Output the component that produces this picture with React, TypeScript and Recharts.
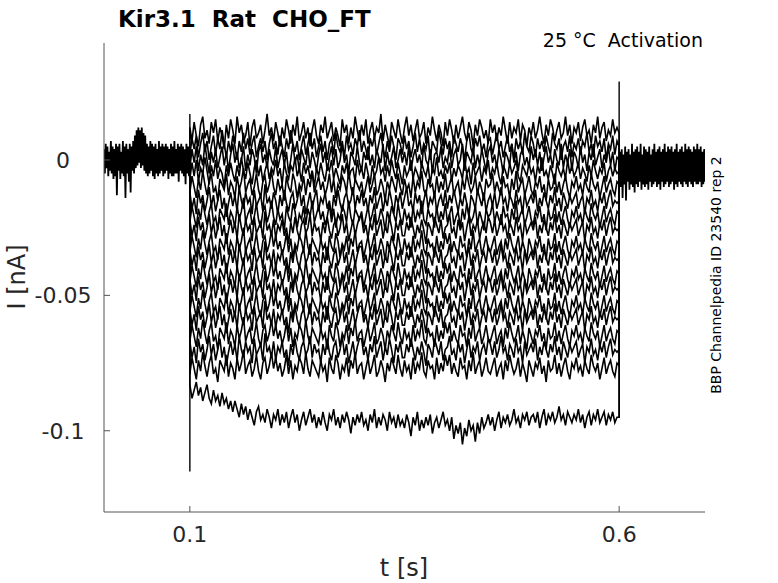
import React from 'react';
import { LineChart, Line, XAxis, YAxis } from 'recharts';

// sampling of the recorded sweeps (s)
const PRE_START = 0;
const PRE_STEP = 0.001;
const PULSE_START = 0.1;
const PULSE_STEP = 0.0025;
const POST_START = 0.6;
const POST_STEP = 0.001;

const xTicks = [0.1, 0.6];
const yTicks = [-0.1, -0.05, 0];

// holding current before the step, all sweeps on top of each other (pA)
const preBaseline = [
  4, -5, 6, -3, 5, -6, 3, -4, 7, -5,
  5, -7, 4, -6, 6, -13, 5, -4, 6, -7,
  3, -5, 7, -6, 5, -14, 6, -5, 4, -8,
  6, -12, 5, -4, 7, -5, 9, -3, 11, -2,
  12, -1, 11, -3, 12, -2, 10, -4, 9, -5,
  6, -6, 5, -5, 7, -4, 6, -6, 5, -7,
  6, -5, 4, -6, 7, -5, 5, -4, 6, -6,
  5, -5, 6, -4, 5, -7, 4, -5, 6, -6,
  5, -6, 7, -5, 4, -5, 6, -8, 5, -4,
  6, -5, 5, -6, 4, -9, 6, -5, 5, -6,
  0,
];

// tail current after the step (pA)
const postBaseline = [
  0,
  3, -10, 4, -14, 2, -9, 5, -15, 3, -8,
  4, -11, 2, -9, 6, -10, 3, -12, 4, -9,
  5, -10, 3, -8, 6, -11, 2, -9, 5, -10,
  4, -9, 3, -11, 5, -8, 2, -10, 4, -9,
  6, -8, 3, -10, 4, -9, 5, -11, 3, -8,
  4, -10, 6, -9, 3, -8, 5, -10, 4, -9,
  5, -8, 3, -11, 4, -9, 6, -10, 3, -8,
  4, -9, 5, -10, 3, -8, 6, -9, 4, -10,
  5, -8, 4, -9, 3, -10, 5, -8, 4, -9,
  6, -9, 4, -8, 5, -10, 3, -9, 4, -8,
];

// current during the voltage step, one array per sweep (pA)
const sweep01 = [
  12, 7, 14, 9, 5, 13, 16, 8, 11, 6, 14, 10, 15, 7, 12, 9, 4, 13, 8, 15,
  11, 6, 16, 10, 13, 7, 9, 14, 5, 12, 15, 8, 10, 13, 6, 11, 17, 9, 12, 7,
  14, 10, 5, 12, 8, 15, 11, 6, 13, 9, 16, 7, 10, 14, 8, 12, 5, 11, 15, 9,
  6, 13, 10, 16, 8, 11, 14, 7, 12, 9, 5, 15, 10, 13, 6, 12, 8, 16, 11, 7,
  13, 9, 15, 6, 11, 14, 8, 12, 10, 17, 7, 13, 9, 5, 14, 11, 8, 15, 10, 6,
  12, 16, 9, 13, 7, 11, 15, 8, 10, 14, 6, 12, 9, 16, 11, 7, 13, 10, 5, 14,
  9, 15, 11, 6, 13, 8, 12, 16, 10, 7, 14, 11, 5, 13, 9, 15, 12, 8, 11, 6,
  15, 10, 13, 7, 12, 9, 16, 11, 6, 14, 8, 12, 10, 15, 7, 13, 11, 5, 12, 9,
  14, 8, 11, 16, 10, 6, 13, 9, 15, 12, 7, 11, 14, 8, 10, 16, 9, 13, 6, 12,
  10, 14, 7, 12, 15, 9, 11, 6, 13, 10, 16, 8, 12, 14, 7, 11, 9, 15, 10, 12,
  10,
];
const sweep02 = [
  2, 8, 4, 9, 1, 6, 10, 3, 7, 0, 5, 9, 2, 8, 4, 11, 6, 1, 7, 3,
  9, 5, 0, 7, 3, 10, 4, 8, 2, 6, 9, 1, 5, 8, 3, 7, 0, 6, 10, 4,
  7, 2, 9, 5, 1, 8, 4, 11, 6, 3, 7, 0, 5, 9, 2, 6, 10, 4, 8, 1,
  5, 9, 3, 7, 0, 6, 8, 2, 10, 5, 3, 7, 1, 9, 4, 6, 2, 8, 5, 11,
  3, 7, 4, 0, 8, 5, 9, 2, 6, 10, 4, 1, 7, 3, 9, 5, 0, 8, 6, 2,
  9, 4, 7, 1, 5, 10, 3, 8, 2, 6, 4, 9, 0, 7, 5, 3, 11, 6, 2, 8,
  4, 7, 1, 9, 6, 3, 8, 5, 0, 7, 10, 4, 2, 8, 5, 9, 3, 6, 1, 7,
  8, 2, 6, 10, 4, 7, 1, 5, 9, 3, 6, 0, 8, 4, 7, 2, 10, 5, 3, 9,
  6, 1, 8, 4, 7, 3, 9, 5, 2, 10, 6, 4, 8, 0, 5, 7, 3, 9, 1, 6,
  4, 8, 2, 7, 5, 10, 3, 6, 1, 9, 5, 7, 3, 8, 0, 6, 4, 9, 2, 7,
  5,
];
const sweep03 = [
  -3, 4, -1, 5, -4, 2, -2, 6, 0, -5, 3, -1, 4, -3, 1, 5, -2, 3, -4, 2,
  6, -1, 3, -3, 0, 5, -4, 2, -2, 4, 1, -5, 3, 6, -1, 2, -3, 4, 0, -2,
  5, -3, 1, 4, -2, 3, -5, 0, 6, -1, 2, -4, 4, 1, -2, 5, -3, 3, 0, -4,
  2, 6, -1, 3, -4, 1, 5, -2, 4, -3, 0, 6, -1, 2, -5, 3, 1, -2, 5, -1,
  -4, 3, 0, 5, -2, 2, -3, 4, 1, -1, 6, -4, 3, -2, 1, 5, -3, 0, 4, -1,
  3, -2, 5, -4, 1, 4, -1, 2, -3, 6, 0, -2, 4, -5, 2, 3, -1, 5, -3, 1,
  -1, 5, -3, 2, 4, -2, 0, 6, -4, 3, 1, -1, 5, -3, 2, -2, 4, 0, -4, 3,
  5, -1, 2, -3, 4, 0, -5, 3, 1, -2, 6, -1, 3, -4, 2, 4, -2, 1, -3, 5,
  0, 4, -2, 3, -4, 1, 5, -1, 2, -3, 4, 0, -2, 6, -3, 2, -1, 4, -4, 3,
  1, -3, 5, -1, 2, -4, 3, 0, 6, -2, 1, 4, -3, 2, -1, 5, -2, 3, -4, 1,
  0,
];
const sweep04 = [
  -7, -1, -6, 0, -8, -3, -5, 1, -4, -9, -2, -6, 0, -7, -3, -5, -10, -2, -6, -1,
  -5, -8, -2, -6, 1, -4, -7, -1, -5, -9, -3, 0, -6, -2, -8, -4, -1, -7, -3, -5,
  0, -6, -3, -9, -1, -5, -7, -2, -4, 1, -6, -3, -8, -1, -5, -2, -7, -4, -10, -3,
  -6, -1, -5, -8, -2, -4, 0, -7, -3, -6, -9, -2, -5, -1, -7, -4, -3, -8, 0, -5,
  -3, -7, -1, -5, -9, -2, -6, -4, 1, -5, -3, -8, -2, -6, 0, -4, -7, -1, -5, -9,
  -2, -6, -4, 0, -7, -3, -5, -8, -1, -4, -6, -2, -9, -3, -5, 1, -6, -4, -7, -2,
  -5, -1, -8, -3, -6, -2, -4, -7, 0, -5, -3, -9, -1, -6, -4, -2, -8, -3, -5, 0,
  -7, -3, -5, -1, -6, -9, -2, -4, -7, -1, -5, -3, 0, -6, -8, -2, -4, -6, -1, -5,
  -3, -8, -2, -5, 1, -6, -4, -7, -2, -5, -9, -1, -4, -6, -3, -7, 0, -5, -2, -6,
  -4, -1, -7, -3, -5, -8, -2, -6, 0, -4, -7, -3, -5, -1, -8, -4, -2, -6, -3, -5,
  -4,
];
const sweep05 = [
  -12, -6, -10, -14, -7, -11, -4, -9, -13, -8, -5, -12, -10, -15, -7, -9, -11, -5, -13, -8,
  -10, -14, -6, -11, -8, -3, -12, -9, -7, -13, -10, -5, -11, -14, -8, -6, -12, -9, -4, -10,
  -13, -7, -11, -9, -15, -6, -10, -12, -5, -8, -14, -9, -11, -6, -13, -7, -10, -4, -12, -9,
  -6, -11, -8, -13, -10, -5, -12, -7, -14, -9, -11, -6, -8, -12, -4, -10, -13, -7, -9, -11,
  -8, -14, -10, -6, -12, -9, -5, -13, -11, -7, -10, -15, -8, -11, -6, -9, -12, -5, -10, -13,
  -7, -11, -9, -14, -6, -12, -8, -10, -4, -11, -13, -7, -10, -9, -14, -6, -12, -8, -11, -5,
  -12, -9, -6, -13, -10, -8, -14, -7, -11, -5, -9, -12, -10, -6, -13, -8, -11, -15, -7, -10,
  -9, -5, -12, -8, -11, -13, -6, -10, -9, -14, -7, -11, -4, -12, -9, -7, -13, -10, -6, -11,
  -13, -8, -10, -6, -12, -9, -15, -7, -11, -10, -5, -12, -8, -13, -9, -6, -11, -14, -8, -10,
  -6, -11, -9, -13, -7, -10, -12, -5, -9, -11, -8, -14, -10, -6, -12, -9, -7, -11, -13, -8,
  -9,
];
const sweep06 = [
  -12, -18, -14, -20, -11, -16, -13, -19, -15, -10, -17, -13, -19, -15, -11, -18, -14, -21, -16, -12,
  -17, -13, -19, -10, -15, -18, -12, -16, -14, -20, -11, -17, -15, -13, -19, -9, -16, -14, -18, -12,
  -15, -20, -13, -17, -11, -16, -19, -14, -12, -18, -15, -10, -17, -13, -20, -16, -12, -18, -14, -11,
  -19, -14, -16, -12, -18, -15, -21, -13, -17, -11, -16, -19, -14, -12, -17, -15, -10, -18, -13, -16,
  -11, -17, -14, -19, -13, -16, -10, -18, -15, -12, -19, -14, -17, -11, -15, -20, -13, -16, -12, -18,
  -14, -10, -17, -15, -19, -12, -16, -13, -20, -15, -11, -18, -14, -16, -12, -19, -15, -13, -17, -11,
  -18, -13, -16, -11, -15, -19, -14, -17, -12, -16, -21, -13, -15, -18, -11, -14, -17, -12, -19, -15,
  -13, -17, -12, -18, -15, -10, -16, -14, -19, -13, -15, -18, -11, -16, -14, -20, -12, -17, -15, -13,
  -16, -11, -19, -14, -17, -12, -15, -18, -13, -16, -10, -17, -14, -19, -12, -15, -18, -13, -16, -14,
  -12, -18, -15, -13, -20, -14, -16, -11, -17, -15, -19, -13, -16, -12, -18, -14, -11, -17, -15, -16,
  -15,
];
const sweep07 = [
  -23, -17, -21, -25, -18, -22, -15, -20, -24, -19, -16, -23, -21, -26, -18, -20, -22, -16, -24, -19,
  -21, -25, -17, -22, -19, -14, -23, -20, -18, -24, -21, -16, -22, -25, -19, -17, -23, -20, -15, -21,
  -24, -18, -22, -20, -26, -17, -21, -23, -16, -19, -25, -20, -22, -17, -24, -18, -21, -15, -23, -20,
  -17, -22, -19, -24, -21, -16, -23, -18, -25, -20, -22, -17, -19, -23, -15, -21, -24, -18, -20, -22,
  -19, -25, -21, -17, -23, -20, -16, -24, -22, -18, -21, -26, -19, -22, -17, -20, -23, -16, -21, -24,
  -18, -22, -20, -25, -17, -23, -19, -21, -15, -22, -24, -18, -21, -20, -25, -17, -23, -19, -22, -16,
  -23, -20, -17, -24, -21, -19, -25, -18, -22, -16, -20, -23, -21, -17, -24, -19, -22, -26, -18, -21,
  -20, -16, -23, -19, -22, -24, -17, -21, -20, -25, -18, -22, -15, -23, -20, -18, -24, -21, -17, -22,
  -24, -19, -21, -17, -23, -20, -26, -18, -22, -21, -16, -23, -19, -24, -20, -17, -22, -25, -19, -21,
  -17, -22, -20, -24, -18, -21, -23, -16, -20, -22, -19, -25, -21, -17, -23, -20, -18, -22, -24, -19,
  -20,
];
const sweep08 = [
  -22, -28, -24, -30, -21, -26, -23, -29, -25, -20, -27, -23, -29, -25, -21, -28, -24, -31, -26, -22,
  -27, -23, -29, -20, -25, -28, -22, -26, -24, -30, -21, -27, -25, -23, -29, -19, -26, -24, -28, -22,
  -29, -24, -26, -22, -28, -25, -31, -23, -27, -21, -26, -29, -24, -22, -27, -25, -20, -28, -23, -26,
  -25, -30, -23, -27, -21, -26, -29, -24, -22, -28, -25, -20, -27, -23, -30, -26, -22, -28, -24, -21,
  -21, -27, -24, -29, -23, -26, -20, -28, -25, -22, -29, -24, -27, -21, -25, -30, -23, -26, -22, -28,
  -28, -23, -26, -21, -25, -29, -24, -27, -22, -26, -31, -23, -25, -28, -21, -24, -27, -22, -29, -25,
  -24, -20, -27, -25, -29, -22, -26, -23, -30, -25, -21, -28, -24, -26, -22, -29, -25, -23, -27, -21,
  -23, -27, -22, -28, -25, -20, -26, -24, -29, -23, -25, -28, -21, -26, -24, -30, -22, -27, -25, -23,
  -26, -21, -29, -24, -27, -22, -25, -28, -23, -26, -20, -27, -24, -29, -22, -25, -28, -23, -26, -24,
  -22, -28, -25, -23, -30, -24, -26, -21, -27, -25, -29, -23, -26, -22, -28, -24, -21, -27, -25, -26,
  -25,
];
const sweep09 = [
  -34, -28, -32, -36, -29, -33, -26, -31, -35, -30, -27, -34, -32, -37, -29, -31, -33, -27, -35, -30,
  -32, -36, -28, -33, -30, -25, -34, -31, -29, -35, -32, -27, -33, -36, -30, -28, -34, -31, -26, -32,
  -28, -33, -30, -35, -32, -27, -34, -29, -36, -31, -33, -28, -30, -34, -26, -32, -35, -29, -31, -33,
  -35, -29, -33, -31, -37, -28, -32, -34, -27, -30, -36, -31, -33, -28, -35, -29, -32, -26, -34, -31,
  -30, -36, -32, -28, -34, -31, -27, -35, -33, -29, -32, -37, -30, -33, -28, -31, -34, -27, -32, -35,
  -29, -33, -31, -36, -28, -34, -30, -32, -26, -33, -35, -29, -32, -31, -36, -28, -34, -30, -33, -27,
  -31, -27, -34, -30, -33, -35, -28, -32, -31, -36, -29, -33, -26, -34, -31, -29, -35, -32, -28, -33,
  -34, -31, -28, -35, -32, -30, -36, -29, -33, -27, -31, -34, -32, -28, -35, -30, -33, -37, -29, -32,
  -35, -30, -32, -28, -34, -31, -37, -29, -33, -32, -27, -34, -30, -35, -31, -28, -33, -36, -30, -32,
  -28, -33, -31, -35, -29, -32, -34, -27, -31, -33, -30, -36, -32, -28, -34, -31, -29, -33, -35, -30,
  -31,
];
const sweep10 = [
  -33, -39, -35, -41, -32, -37, -34, -40, -36, -31, -38, -34, -40, -36, -32, -39, -35, -42, -37, -33,
  -38, -34, -40, -31, -36, -39, -33, -37, -35, -41, -32, -38, -36, -34, -40, -30, -37, -35, -39, -33,
  -40, -35, -37, -33, -39, -36, -42, -34, -38, -32, -37, -40, -35, -33, -38, -36, -31, -39, -34, -37,
  -36, -41, -34, -38, -32, -37, -40, -35, -33, -39, -36, -31, -38, -34, -41, -37, -33, -39, -35, -32,
  -32, -38, -35, -40, -34, -37, -31, -39, -36, -33, -40, -35, -38, -32, -36, -41, -34, -37, -33, -39,
  -39, -34, -37, -32, -36, -40, -35, -38, -33, -37, -42, -34, -36, -39, -32, -35, -38, -33, -40, -36,
  -35, -31, -38, -36, -40, -33, -37, -34, -41, -36, -32, -39, -35, -37, -33, -40, -36, -34, -38, -32,
  -34, -38, -33, -39, -36, -31, -37, -35, -40, -34, -36, -39, -32, -37, -35, -41, -33, -38, -36, -34,
  -37, -32, -40, -35, -38, -33, -36, -39, -34, -37, -31, -38, -35, -40, -33, -36, -39, -34, -37, -35,
  -33, -39, -36, -34, -41, -35, -37, -32, -38, -36, -40, -34, -37, -33, -39, -35, -32, -38, -36, -37,
  -36,
];
const sweep11 = [
  -45, -39, -43, -47, -40, -44, -37, -42, -46, -41, -38, -45, -43, -48, -40, -42, -44, -38, -46, -41,
  -43, -47, -39, -44, -41, -36, -45, -42, -40, -46, -43, -38, -44, -47, -41, -39, -45, -42, -37, -43,
  -39, -44, -41, -46, -43, -38, -45, -40, -47, -42, -44, -39, -41, -45, -37, -43, -46, -40, -42, -44,
  -46, -40, -44, -42, -48, -39, -43, -45, -38, -41, -47, -42, -44, -39, -46, -40, -43, -37, -45, -42,
  -41, -47, -43, -39, -45, -42, -38, -46, -44, -40, -43, -48, -41, -44, -39, -42, -45, -38, -43, -46,
  -40, -44, -42, -47, -39, -45, -41, -43, -37, -44, -46, -40, -43, -42, -47, -39, -45, -41, -44, -38,
  -42, -38, -45, -41, -44, -46, -39, -43, -42, -47, -40, -44, -37, -45, -42, -40, -46, -43, -39, -44,
  -45, -42, -39, -46, -43, -41, -47, -40, -44, -38, -42, -45, -43, -39, -46, -41, -44, -48, -40, -43,
  -46, -41, -43, -39, -45, -42, -48, -40, -44, -43, -38, -45, -41, -46, -42, -39, -44, -47, -41, -43,
  -39, -44, -42, -46, -40, -43, -45, -38, -42, -44, -41, -47, -43, -39, -45, -42, -40, -44, -46, -41,
  -42,
];
const sweep12 = [
  -44, -50, -46, -52, -43, -48, -45, -51, -47, -42, -49, -45, -51, -47, -43, -50, -46, -53, -48, -44,
  -49, -45, -51, -42, -47, -50, -44, -48, -46, -52, -43, -49, -47, -45, -51, -41, -48, -46, -50, -44,
  -51, -46, -48, -44, -50, -47, -53, -45, -49, -43, -48, -51, -46, -44, -49, -47, -42, -50, -45, -48,
  -47, -52, -45, -49, -43, -48, -51, -46, -44, -50, -47, -42, -49, -45, -52, -48, -44, -50, -46, -43,
  -43, -49, -46, -51, -45, -48, -42, -50, -47, -44, -51, -46, -49, -43, -47, -52, -45, -48, -44, -50,
  -50, -45, -48, -43, -47, -51, -46, -49, -44, -48, -53, -45, -47, -50, -43, -46, -49, -44, -51, -47,
  -46, -42, -49, -47, -51, -44, -48, -45, -52, -47, -43, -50, -46, -48, -44, -51, -47, -45, -49, -43,
  -45, -49, -44, -50, -47, -42, -48, -46, -51, -45, -47, -50, -43, -48, -46, -52, -44, -49, -47, -45,
  -48, -43, -51, -46, -49, -44, -47, -50, -45, -48, -42, -49, -46, -51, -44, -47, -50, -45, -48, -46,
  -44, -50, -47, -45, -52, -46, -48, -43, -49, -47, -51, -45, -48, -44, -50, -46, -43, -49, -47, -48,
  -47,
];
const sweep13 = [
  -56, -50, -54, -58, -51, -55, -48, -53, -57, -52, -49, -56, -54, -59, -51, -53, -55, -49, -57, -52,
  -54, -58, -50, -55, -52, -47, -56, -53, -51, -57, -54, -49, -55, -58, -52, -50, -56, -53, -48, -54,
  -50, -55, -52, -57, -54, -49, -56, -51, -58, -53, -55, -50, -52, -56, -48, -54, -57, -51, -53, -55,
  -57, -51, -55, -53, -59, -50, -54, -56, -49, -52, -58, -53, -55, -50, -57, -51, -54, -48, -56, -53,
  -52, -58, -54, -50, -56, -53, -49, -57, -55, -51, -54, -59, -52, -55, -50, -53, -56, -49, -54, -57,
  -51, -55, -53, -58, -50, -56, -52, -54, -48, -55, -57, -51, -54, -53, -58, -50, -56, -52, -55, -49,
  -53, -49, -56, -52, -55, -57, -50, -54, -53, -58, -51, -55, -48, -56, -53, -51, -57, -54, -50, -55,
  -56, -53, -50, -57, -54, -52, -58, -51, -55, -49, -53, -56, -54, -50, -57, -52, -55, -59, -51, -54,
  -57, -52, -54, -50, -56, -53, -59, -51, -55, -54, -49, -56, -52, -57, -53, -50, -55, -58, -52, -54,
  -50, -55, -53, -57, -51, -54, -56, -49, -53, -55, -52, -58, -54, -50, -56, -53, -51, -55, -57, -52,
  -53,
];
const sweep14 = [
  -55, -61, -57, -63, -54, -59, -56, -62, -58, -53, -60, -56, -62, -58, -54, -61, -57, -64, -59, -55,
  -60, -56, -62, -53, -58, -61, -55, -59, -57, -63, -54, -60, -58, -56, -62, -52, -59, -57, -61, -55,
  -62, -57, -59, -55, -61, -58, -64, -56, -60, -54, -59, -62, -57, -55, -60, -58, -53, -61, -56, -59,
  -58, -63, -56, -60, -54, -59, -62, -57, -55, -61, -58, -53, -60, -56, -63, -59, -55, -61, -57, -54,
  -54, -60, -57, -62, -56, -59, -53, -61, -58, -55, -62, -57, -60, -54, -58, -63, -56, -59, -55, -61,
  -61, -56, -59, -54, -58, -62, -57, -60, -55, -59, -64, -56, -58, -61, -54, -57, -60, -55, -62, -58,
  -57, -53, -60, -58, -62, -55, -59, -56, -63, -58, -54, -61, -57, -59, -55, -62, -58, -56, -60, -54,
  -56, -60, -55, -61, -58, -53, -59, -57, -62, -56, -58, -61, -54, -59, -57, -63, -55, -60, -58, -56,
  -59, -54, -62, -57, -60, -55, -58, -61, -56, -59, -53, -60, -57, -62, -55, -58, -61, -56, -59, -57,
  -55, -61, -58, -56, -63, -57, -59, -54, -60, -58, -62, -56, -59, -55, -61, -57, -54, -60, -58, -59,
  -58,
];
const sweep15 = [
  -67, -61, -65, -69, -62, -66, -59, -64, -68, -63, -60, -67, -65, -70, -62, -64, -66, -60, -68, -63,
  -65, -69, -61, -66, -63, -58, -67, -64, -62, -68, -65, -60, -66, -69, -63, -61, -67, -64, -59, -65,
  -61, -66, -63, -68, -65, -60, -67, -62, -69, -64, -66, -61, -63, -67, -59, -65, -68, -62, -64, -66,
  -68, -62, -66, -64, -70, -61, -65, -67, -60, -63, -69, -64, -66, -61, -68, -62, -65, -59, -67, -64,
  -63, -69, -65, -61, -67, -64, -60, -68, -66, -62, -65, -70, -63, -66, -61, -64, -67, -60, -65, -68,
  -62, -66, -64, -69, -61, -67, -63, -65, -59, -66, -68, -62, -65, -64, -69, -61, -67, -63, -66, -60,
  -64, -60, -67, -63, -66, -68, -61, -65, -64, -69, -62, -66, -59, -67, -64, -62, -68, -65, -61, -66,
  -67, -64, -61, -68, -65, -63, -69, -62, -66, -60, -64, -67, -65, -61, -68, -63, -66, -70, -62, -65,
  -68, -63, -65, -61, -67, -64, -70, -62, -66, -65, -60, -67, -63, -68, -64, -61, -66, -69, -63, -65,
  -61, -66, -64, -68, -62, -65, -67, -60, -64, -66, -63, -69, -65, -61, -67, -64, -62, -66, -68, -63,
  -64,
];
const sweep16 = [
  -67, -73, -69, -75, -66, -71, -68, -74, -70, -65, -72, -68, -74, -70, -66, -73, -69, -76, -71, -67,
  -72, -68, -74, -65, -70, -73, -67, -71, -69, -75, -66, -72, -70, -68, -74, -64, -71, -69, -73, -67,
  -74, -69, -71, -67, -73, -70, -76, -68, -72, -66, -71, -74, -69, -67, -72, -70, -65, -73, -68, -71,
  -70, -75, -68, -72, -66, -71, -74, -69, -67, -73, -70, -65, -72, -68, -75, -71, -67, -73, -69, -66,
  -66, -72, -69, -74, -68, -71, -65, -73, -70, -67, -74, -69, -72, -66, -70, -75, -68, -71, -67, -73,
  -73, -68, -71, -66, -70, -74, -69, -72, -67, -71, -76, -68, -70, -73, -66, -69, -72, -67, -74, -70,
  -69, -65, -72, -70, -74, -67, -71, -68, -75, -70, -66, -73, -69, -71, -67, -74, -70, -68, -72, -66,
  -68, -72, -67, -73, -70, -65, -71, -69, -74, -68, -70, -73, -66, -71, -69, -75, -67, -72, -70, -68,
  -71, -66, -74, -69, -72, -67, -70, -73, -68, -71, -65, -72, -69, -74, -67, -70, -73, -68, -71, -69,
  -67, -73, -70, -68, -75, -69, -71, -66, -72, -70, -74, -68, -71, -67, -73, -69, -66, -72, -70, -71,
  -70,
];
const sweep17 = [
  -79, -73, -77, -81, -74, -78, -71, -76, -80, -75, -72, -79, -77, -82, -74, -76, -78, -72, -80, -75,
  -77, -81, -73, -78, -75, -70, -79, -76, -74, -80, -77, -72, -78, -81, -75, -73, -79, -76, -71, -77,
  -73, -78, -75, -80, -77, -72, -79, -74, -81, -76, -78, -73, -75, -79, -71, -77, -80, -74, -76, -78,
  -80, -74, -78, -76, -82, -73, -77, -79, -72, -75, -81, -76, -78, -73, -80, -74, -77, -71, -79, -76,
  -75, -81, -77, -73, -79, -76, -72, -80, -78, -74, -77, -82, -75, -78, -73, -76, -79, -72, -77, -80,
  -74, -78, -76, -81, -73, -79, -75, -77, -71, -78, -80, -74, -77, -76, -81, -73, -79, -75, -78, -72,
  -76, -72, -79, -75, -78, -80, -73, -77, -76, -81, -74, -78, -71, -79, -76, -74, -80, -77, -73, -78,
  -79, -76, -73, -80, -77, -75, -81, -74, -78, -72, -76, -79, -77, -73, -80, -75, -78, -82, -74, -77,
  -80, -75, -77, -73, -79, -76, -82, -74, -78, -77, -72, -79, -75, -80, -76, -73, -78, -81, -75, -77,
  -73, -78, -76, -80, -74, -77, -79, -72, -76, -78, -75, -81, -77, -73, -79, -76, -74, -78, -80, -75,
  -76,
];
const sweep18 = [
  -83, -88, -85, -82, -87, -84, -89, -86, -83, -88, -90, -85, -89, -87, -91, -86, -90, -88, -92, -89,
  -93, -89, -92, -95, -90, -94, -91, -96, -92, -95, -98, -93, -91, -96, -94, -97, -92, -95, -99, -94,
  -96, -92, -98, -94, -97, -93, -99, -95, -92, -97, -94, -100, -96, -93, -98, -95, -92, -97, -94, -99,
  -95, -98, -93, -97, -100, -94, -96, -92, -98, -95, -99, -94, -97, -93, -96, -101, -95, -98, -94, -97,
  -93, -98, -96, -100, -94, -97, -92, -99, -95, -98, -94, -96, -100, -93, -97, -95, -99, -94, -98, -96,
  -99, -94, -97, -102, -95, -98, -93, -100, -96, -99, -95, -98, -94, -101, -97, -95, -99, -96, -93, -98,
  -96, -100, -95, -103, -98, -101, -97, -105, -99, -102, -96, -100, -98, -104, -97, -101, -95, -99, -97, -94,
  -98, -95, -100, -96, -93, -99, -95, -97, -94, -98, -96, -92, -97, -95, -99, -94, -96, -93, -98, -95,
  -94, -97, -93, -99, -95, -92, -98, -94, -96, -93, -97, -95, -91, -96, -94, -98, -93, -95, -97, -94,
  -96, -92, -97, -94, -99, -95, -93, -98, -94, -96, -92, -97, -95, -93, -98, -94, -96, -93, -97, -95,
  -95,
];

// capacitive transients at step on / off (pA)
const onsetTime = [0.1, 0.1];
const onsetCurrent = [17, -115];
const offsetTime = [0.6, 0.6];
const offsetCurrent = [-95, 29];

const sweeps = [
  sweep01, sweep02, sweep03, sweep04, sweep05, sweep06, sweep07, sweep08, sweep09,
  sweep10, sweep11, sweep12, sweep13, sweep14, sweep15, sweep16, sweep17, sweep18,
];

type Pt = { t: number; i: number };

const toPoints = (start: number, step: number, values: number[]): Pt[] =>
  values.map((v, k) => ({ t: +(start + k * step).toFixed(5), i: v / 1000 }));

const preSeries = toPoints(PRE_START, PRE_STEP, preBaseline);
const postSeries = toPoints(POST_START, POST_STEP, postBaseline);
const sweepSeries = sweeps.map((s) => [
  { t: PULSE_START, i: preBaseline[preBaseline.length - 1] / 1000 },
  ...toPoints(PULSE_START, PULSE_STEP, s),
  { t: POST_START, i: postBaseline[0] / 1000 },
]);
const onsetSeries = onsetTime.map((t, k) => ({ t, i: onsetCurrent[k] / 1000 }));
const offsetSeries = offsetTime.map((t, k) => ({ t, i: offsetCurrent[k] / 1000 }));

const FONT = '"DejaVu Sans", sans-serif';
const AXIS = '#555555';
const TEXT = '#262626';

const XTick = (props: any) => {
  const { x, y, payload } = props;
  return (
    <g>
      <line x1={x} x2={x} y1={y} y2={y - 6} stroke={AXIS} />
      <text x={x} y={y + 30} textAnchor="middle" fontSize={22} fontFamily={FONT} fill={TEXT}>
        {payload.value}
      </text>
    </g>
  );
};

const YTick = (props: any) => {
  const { x, y, payload } = props;
  return (
    <g>
      <line x1={x} x2={x + 6} y1={y} y2={y} stroke={AXIS} />
      <text x={x - 41} y={y + 8} textAnchor="middle" fontSize={22} fontFamily={FONT} fill={TEXT}>
        {payload.value}
      </text>
    </g>
  );
};

const W = 778;
const H = 583;

export default function App() {
  const line = (data: Pt[], key: string, width: number) => (
    <Line
      key={key}
      data={data}
      dataKey="i"
      type="linear"
      stroke="#000000"
      strokeWidth={width}
      dot={false}
      activeDot={false}
      isAnimationActive={false}
    />
  );

  return (
    <div style={{ position: 'absolute', left: 0, top: 0, width: W, height: H, background: '#fff' }}>
      <LineChart width={W} height={H} margin={{ top: 43, right: 73, bottom: 0, left: 0 }}>
        <XAxis
          type="number"
          dataKey="t"
          domain={[0, 0.7]}
          ticks={xTicks}
          allowDataOverflow
          height={71}
          tickSize={0}
          tickMargin={0}
          tickLine={false}
          axisLine={{ stroke: AXIS }}
          tick={<XTick />}
        />
        <YAxis
          type="number"
          dataKey="i"
          domain={[-0.13, 0.0432]}
          ticks={yTicks}
          allowDataOverflow
          width={104}
          tickSize={0}
          tickMargin={0}
          tickLine={false}
          axisLine={{ stroke: AXIS }}
          tick={<YTick />}
        />
        {line(preSeries, 'pre', 1.8)}
        {sweepSeries.map((s, k) => line(s, `sweep${k}`, 1.6))}
        {line(postSeries, 'post', 1.8)}
        {line(onsetSeries, 'onset', 1.4)}
        {line(offsetSeries, 'offset', 1.4)}
      </LineChart>
      <svg
        width={W}
        height={H}
        style={{ position: 'absolute', left: 0, top: 0, pointerEvents: 'none' }}
      >
        <text x={118} y={27} fontSize={23} fontWeight="bold" fontFamily={FONT} fill="#000" style={{ whiteSpace: 'pre' }}>
          {'Kir3.1  Rat  CHO_FT'}
        </text>
        <text x={703} y={47} textAnchor="end" fontSize={19} fontFamily={FONT} fill="#000" style={{ whiteSpace: 'pre' }}>
          {'25 °C  Activation'}
        </text>
        <text
          x={17}
          y={277}
          textAnchor="middle"
          dominantBaseline="central"
          fontSize={24}
          fontFamily={FONT}
          fill={TEXT}
          transform="rotate(-90 17 277)"
        >
          I [nA]
        </text>
        <text x={404} y={576} textAnchor="middle" fontSize={24} fontFamily={FONT} fill={TEXT}>
          t [s]
        </text>
        <text
          x={716}
          y={275}
          textAnchor="middle"
          dominantBaseline="central"
          fontSize={14}
          fontFamily={FONT}
          fill="#000"
          transform="rotate(-90 716 275)"
        >
          BBP Channelpedia ID 23540 rep 2
        </text>
      </svg>
    </div>
  );
}
